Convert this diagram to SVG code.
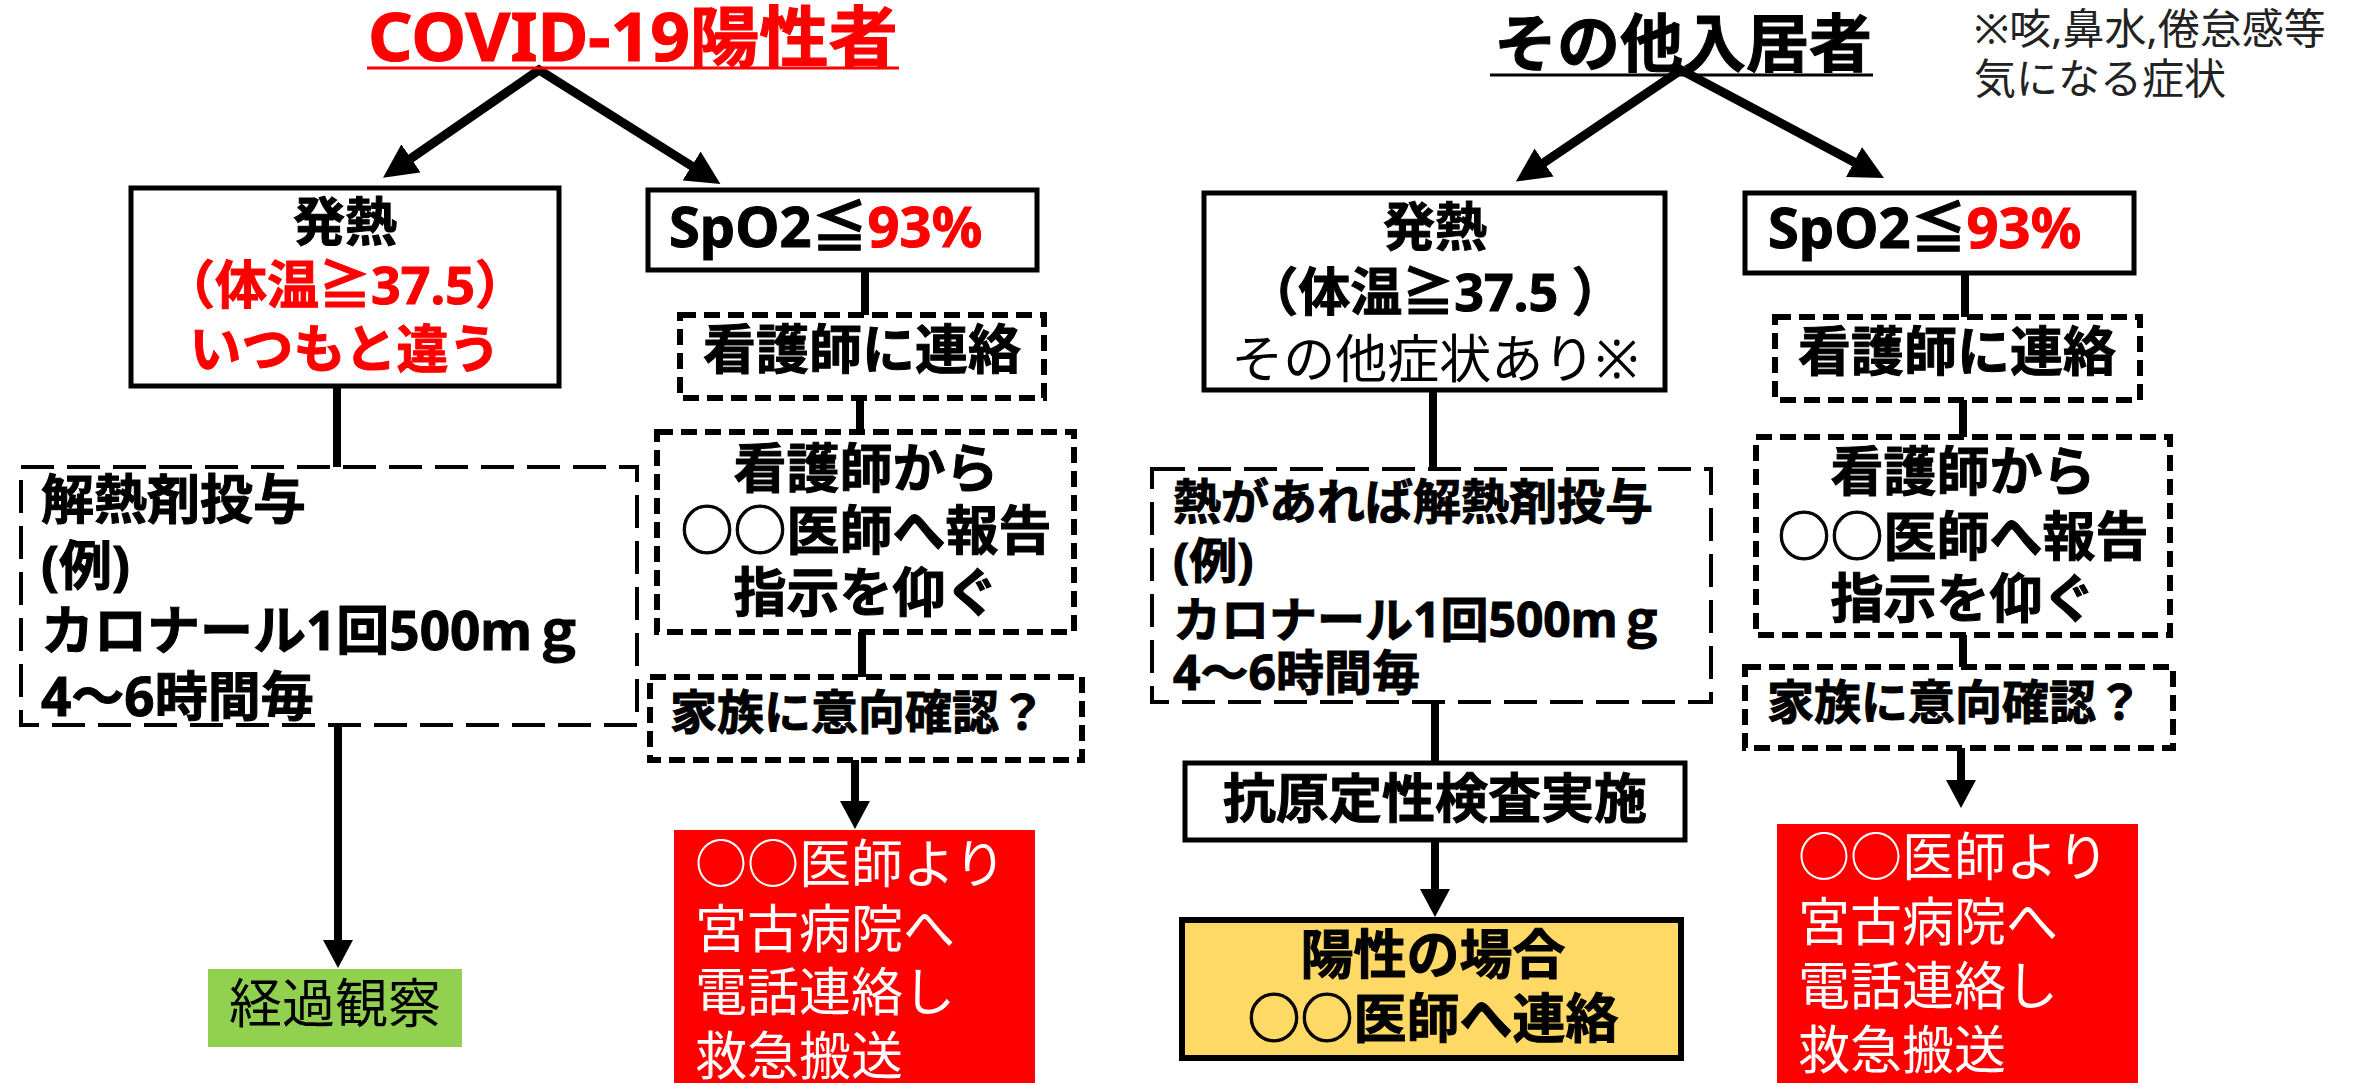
<svg xmlns="http://www.w3.org/2000/svg" width="2356" height="1083" viewBox="0 0 2356 1083">
<style>
.t{font-family:"Noto Sans","Noto Sans CJK JP",sans-serif;}
.b{font-weight:700;stroke:#000;stroke-width:1px;}
.c{text-anchor:middle;}
.box{fill:#fff;stroke:#000;stroke-width:5;}
.dthin{fill:#fff;stroke:#000;stroke-width:4;stroke-dasharray:33 13;}
.dthick{fill:#fff;stroke:#000;stroke-width:6;stroke-dasharray:16 8;}
.conn{fill:none;stroke:#000;stroke-width:8;}
.big{fill:none;stroke:#000;stroke-width:9;stroke-linejoin:miter;}
.red{fill:#f00;stroke:#f00;}
.wt{fill:#fff;}
</style>
<defs>
<marker id="ah" markerUnits="userSpaceOnUse" markerWidth="28" markerHeight="30" refX="14" refY="15" orient="auto-start-reverse">
<path d="M0,0 L28,15 L0,30 z" fill="#000"/>
</marker>
<marker id="ahb" markerUnits="userSpaceOnUse" markerWidth="34" markerHeight="34" refX="17" refY="17" orient="auto-start-reverse">
<path d="M0,0 L34,17 L0,34 z" fill="#000"/>
</marker>
</defs>
<rect width="2356" height="1083" fill="#fff"/>

<g id="connectors">
<path class="big" d="M397,168 L539,70 L706,175" marker-start="url(#ahb)" marker-end="url(#ahb)"/>
<path class="big" d="M1530,172 L1681,70 L1869,170" marker-start="url(#ahb)" marker-end="url(#ahb)"/>
<line class="conn" x1="337" y1="386" x2="337" y2="467"/>
<path class="conn" d="M338,725 L338,954" marker-end="url(#ah)"/>
<line class="conn" x1="865" y1="270" x2="865" y2="315"/>
<line class="conn" x1="860" y1="398" x2="860" y2="432"/>
<line class="conn" x1="862" y1="632" x2="862" y2="677"/>
<path class="conn" d="M855,760 L855,815" marker-end="url(#ah)"/>
<line class="conn" x1="1433" y1="390" x2="1433" y2="469"/>
<line class="conn" x1="1435" y1="702" x2="1435" y2="763"/>
<path class="conn" d="M1435,840 L1435,903" marker-end="url(#ah)"/>
<line class="conn" x1="1965" y1="273" x2="1965" y2="317"/>
<line class="conn" x1="1963" y1="400" x2="1963" y2="437"/>
<line class="conn" x1="1963" y1="635" x2="1963" y2="667"/>
<path class="conn" d="M1961,748 L1961,794" marker-end="url(#ah)"/>
</g>

<g id="title-covid">
<text class="t b c red" x="633" y="61" font-size="66" textLength="530" lengthAdjust="spacingAndGlyphs">COVID-19陽性者</text>
<line x1="367" y1="68" x2="899" y2="68" stroke="#f00" stroke-width="3"/>
</g>
<g id="title-others">
<text class="t b c" x="1683" y="66" font-size="63" fill="#000">その他入居者</text>
<line x1="1490" y1="75" x2="1873" y2="75" stroke="#000" stroke-width="3"/>
</g>
<g id="note">
<text class="t" x="1974" y="44" font-size="42" fill="#222">※咳,鼻水,倦怠感等</text>
<text class="t" x="1974" y="94" font-size="42" fill="#222">気になる症状</text>
</g>

<g id="fever-left">
<rect class="box" x="131" y="188" width="428" height="198"/>
<text class="t b c" x="345" y="241" font-size="52">発熱</text>
<text class="t b c red" x="345" y="304" font-size="52">（体温≧37.5）</text>
<text class="t b c red" x="345" y="368" font-size="52">いつもと違う</text>
</g>
<g id="spo2-left">
<rect class="box" x="648" y="190" width="389" height="80"/>
<text class="t b" x="669" y="247" font-size="56">SpO2≦<tspan fill="#f00" stroke="#f00">93%</tspan></text>
</g>
<g id="nurse-left">
<rect class="dthick" x="680" y="315" width="364" height="83"/>
<text class="t b c" x="862" y="369" font-size="53">看護師に連絡</text>
</g>
<g id="report-left">
<rect class="dthick" x="657" y="432" width="417" height="200"/>
<text class="t b c" x="866" y="488" font-size="53">看護師から</text>
<text class="t b c" x="866" y="550" font-size="53">○○医師へ報告</text>
<text class="t b c" x="866" y="612" font-size="53">指示を仰ぐ</text>
</g>
<g id="family-left">
<rect class="dthick" x="650" y="677" width="432" height="83"/>
<text class="t b c" x="858" y="729" font-size="47">家族に意向確認？</text>
</g>
<g id="transport-left">
<rect x="674" y="830" width="361" height="253" fill="#f00"/>
<text class="t wt" x="695" y="883" font-size="52">○○医師より</text>
<text class="t wt" x="695" y="948" font-size="52">宮古病院へ</text>
<text class="t wt" x="695" y="1011" font-size="52">電話連絡し</text>
<text class="t wt" x="695" y="1075" font-size="52">救急搬送</text>
</g>
<g id="antipyretic-left">
<rect class="dthin" x="21" y="467" width="616" height="258"/>
<text class="t b" x="41" y="519" font-size="53">解熱剤投与</text>
<text class="t b" x="41" y="585" font-size="53">(例)</text>
<text class="t b" x="41" y="650" font-size="53">カロナール1回500mｇ</text>
<text class="t b" x="41" y="716" font-size="53">4～6時間毎</text>
</g>
<g id="observe">
<rect x="208" y="969" width="254" height="78" fill="#92D050"/>
<text class="t c" x="335" y="1023" font-size="53">経過観察</text>
</g>

<g id="fever-right">
<rect class="box" x="1204" y="193" width="461" height="197"/>
<text class="t b c" x="1435" y="246" font-size="52">発熱</text>
<text class="t b c" x="1435" y="311" font-size="52">（体温≧37.5 ）</text>
<text class="t c" x="1435" y="378" font-size="52">その他症状あり※</text>
</g>
<g id="spo2-right">
<rect class="box" x="1745" y="193" width="389" height="80"/>
<text class="t b" x="1768" y="248" font-size="56">SpO2≦<tspan fill="#f00" stroke="#f00">93%</tspan></text>
</g>
<g id="nurse-right">
<rect class="dthick" x="1775" y="317" width="365" height="83"/>
<text class="t b c" x="1957" y="371" font-size="53">看護師に連絡</text>
</g>
<g id="report-right">
<rect class="dthick" x="1756" y="437" width="414" height="198"/>
<text class="t b c" x="1963" y="491" font-size="53">看護師から</text>
<text class="t b c" x="1963" y="556" font-size="53">○○医師へ報告</text>
<text class="t b c" x="1963" y="618" font-size="53">指示を仰ぐ</text>
</g>
<g id="family-right">
<rect class="dthick" x="1745" y="667" width="428" height="81"/>
<text class="t b c" x="1955" y="719" font-size="47">家族に意向確認？</text>
</g>
<g id="transport-right">
<rect x="1777" y="824" width="361" height="259" fill="#f00"/>
<text class="t wt" x="1798" y="876" font-size="52">○○医師より</text>
<text class="t wt" x="1798" y="941" font-size="52">宮古病院へ</text>
<text class="t wt" x="1798" y="1005" font-size="52">電話連絡し</text>
<text class="t wt" x="1798" y="1069" font-size="52">救急搬送</text>
</g>
<g id="antipyretic-right">
<rect class="dthin" x="1152" y="469" width="559" height="233"/>
<text class="t b" x="1173" y="519" font-size="48">熱があれば解熱剤投与</text>
<text class="t b" x="1173" y="578" font-size="48">(例)</text>
<text class="t b" x="1173" y="637" font-size="48">カロナール1回500mｇ</text>
<text class="t b" x="1173" y="690" font-size="48">4～6時間毎</text>
</g>
<g id="antigen">
<rect class="box" x="1185" y="763" width="500" height="77"/>
<text class="t b c" x="1435" y="818" font-size="53">抗原定性検査実施</text>
</g>
<g id="positive">
<rect x="1182" y="920" width="499" height="138" fill="#FFD966" stroke="#000" stroke-width="6"/>
<text class="t b c" x="1433" y="974" font-size="53">陽性の場合</text>
<text class="t b c" x="1433" y="1038" font-size="53">○○医師へ連絡</text>
</g>
</svg>
